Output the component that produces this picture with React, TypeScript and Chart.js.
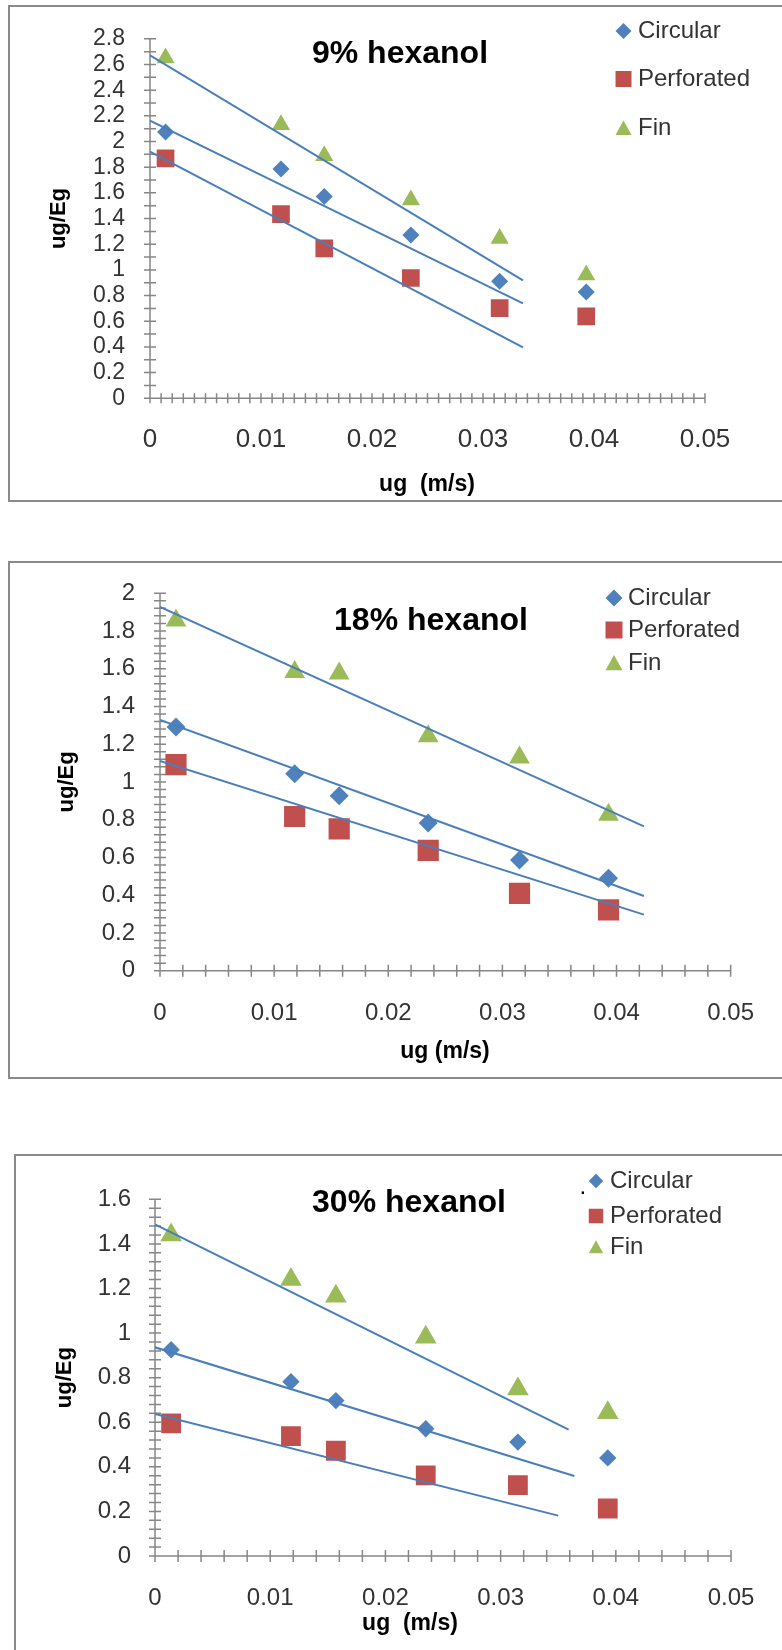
import React, { useEffect, useRef } from 'react';
import { Chart, registerables } from 'chart.js';

Chart.register(...registerables);

// ---------- data ----------
const UG = [0.0014, 0.0118, 0.0157, 0.0235, 0.0315, 0.0393];
const SERIES_NAMES = ['Circular', 'Perforated', 'Fin'];
const X_TICKS = [0, 0.01, 0.02, 0.03, 0.04, 0.05];

// 9% hexanol
const H9_CIRCULAR = [2.075, 1.785, 1.571, 1.272, 0.912, 0.828];
const H9_PERFORATED = [1.869, 1.434, 1.168, 0.937, 0.703, 0.638];
const H9_FIN = [2.65, 2.13, 1.89, 1.545, 1.245, 0.96];
const H9_TREND_X = [0, 0.0336];
const H9_TREND_CIRCULAR = [2.162, 0.74];
const H9_TREND_PERFORATED = [1.921, 0.397];
const H9_TREND_FIN = [2.672, 0.919];
const H9_Y_TICKS = [0, 0.2, 0.4, 0.6, 0.8, 1, 1.2, 1.4, 1.6, 1.8, 2, 2.2, 2.4, 2.6, 2.8];

// 18% hexanol
const H18_CIRCULAR = [1.291, 1.044, 0.927, 0.783, 0.586, 0.49];
const H18_PERFORATED = [1.092, 0.817, 0.751, 0.637, 0.41, 0.322];
const H18_FIN = [1.855, 1.583, 1.574, 1.242, 1.129, 0.826];
const H18_TREND_X = [0, 0.0424];
const H18_TREND_CIRCULAR = [1.328, 0.396];
const H18_TREND_PERFORATED = [1.111, 0.297];
const H18_TREND_FIN = [1.928, 0.765];
const H18_Y_TICKS = [0, 0.2, 0.4, 0.6, 0.8, 1, 1.2, 1.4, 1.6, 1.8, 2];

// 30% hexanol
const H30_CIRCULAR = [0.925, 0.782, 0.697, 0.571, 0.511, 0.44];
const H30_PERFORATED = [0.595, 0.538, 0.472, 0.362, 0.318, 0.213];
const H30_FIN = [1.44, 1.24, 1.165, 0.981, 0.749, 0.643];
const H30_TREND_CIRCULAR_X = [0, 0.0364];
const H30_TREND_CIRCULAR = [0.936, 0.359];
const H30_TREND_PERFORATED_X = [0, 0.035];
const H30_TREND_PERFORATED = [0.637, 0.181];
const H30_TREND_FIN_X = [0, 0.0359];
const H30_TREND_FIN = [1.487, 0.567];
const H30_Y_TICKS = [0, 0.2, 0.4, 0.6, 0.8, 1, 1.2, 1.4, 1.6];

// ---------- styles ----------
const BLUE = '#4F81BD';
const RED = '#C0504D';
const GREEN = '#9BBB59';
const TREND = '#4A7EBB';
const AXIS = '#868686';
const TEXT = '#333333';
const FONT = "'Liberation Sans', Arial, sans-serif";
const W = 782;
const X_AXIS_H = 60;

type Trend = { x: number[]; y: number[] };
type PanelCfg = {
  key: string;
  canvasTop: number;
  canvasH: number;
  box: { left: number; top: number; width: number; height: number };
  area: { left: number; right: number; top: number; bottom: number };
  yMax: number;
  yTicks: number[];
  yMinor: number;
  xMinor: number;
  yTickLen: number;
  xTickLen: number;
  yTickSize: number;
  xTickSize: number;
  yTickPad: number;
  xTickPad: number;
  yTitleX: number;
  title: { text: string; x: number; y: number };
  xTitle: { text: string; x: number; y: number };
  legend: { markerX: number; textX: number; ys: number[]; size: number; dot?: { x: number; y: number } };
  radius: number[];
  series: number[][];
  trends: Trend[];
};

const PANELS: PanelCfg[] = [
  {
    key: 'h9',
    canvasTop: 0,
    canvasH: 510,
    box: { left: 8, top: 5, width: 790, height: 497 },
    area: { left: 150, right: 705, top: 22.7, bottom: 398.3 },
    yMax: 2.8,
    yTicks: H9_Y_TICKS,
    yMinor: 0.1,
    xMinor: 0.001,
    yTickLen: 6,
    xTickLen: 5,
    yTickSize: 23,
    xTickSize: 26,
    yTickPad: 25,
    xTickPad: 26,
    yTitleX: 59,
    title: { text: '9% hexanol', x: 400, y: 63 },
    xTitle: { text: 'ug  (m/s)', x: 427, y: 485 },
    legend: { markerX: 623.5, textX: 638, ys: [31, 79, 128], size: 16 },
    radius: [8.5, 12.5, 10.5],
    series: [H9_CIRCULAR, H9_PERFORATED, H9_FIN],
    trends: [
      { x: H9_TREND_X, y: H9_TREND_CIRCULAR },
      { x: H9_TREND_X, y: H9_TREND_PERFORATED },
      { x: H9_TREND_X, y: H9_TREND_FIN },
    ],
  },
  {
    key: 'h18',
    canvasTop: 510,
    canvasH: 580,
    box: { left: 8, top: 561, width: 790, height: 518 },
    area: { left: 160, right: 745.6, top: 593.2, bottom: 970.7 },
    yMax: 2,
    yTicks: H18_Y_TICKS,
    yMinor: 0.04,
    xMinor: 0.002,
    yTickLen: 6,
    xTickLen: 6,
    yTickSize: 24,
    xTickSize: 24,
    yTickPad: 25,
    xTickPad: 28,
    yTitleX: 67,
    title: { text: '18% hexanol', x: 431, y: 630 },
    xTitle: { text: 'ug (m/s)', x: 445, y: 1052 },
    legend: { markerX: 614, textX: 628, ys: [598, 630, 663], size: 17 },
    radius: [9.5, 15, 12],
    series: [H18_CIRCULAR, H18_PERFORATED, H18_FIN],
    trends: [
      { x: H18_TREND_X, y: H18_TREND_CIRCULAR },
      { x: H18_TREND_X, y: H18_TREND_PERFORATED },
      { x: H18_TREND_X, y: H18_TREND_FIN },
    ],
  },
  {
    key: 'h30',
    canvasTop: 1090,
    canvasH: 560,
    box: { left: 14, top: 1154, width: 790, height: 520 },
    area: { left: 155, right: 743, top: 1199.3, bottom: 1556 },
    yMax: 1.6,
    yTicks: H30_Y_TICKS,
    yMinor: 0.04,
    xMinor: 0.002,
    yTickLen: 6,
    xTickLen: 6,
    yTickSize: 24,
    xTickSize: 24,
    yTickPad: 24,
    xTickPad: 27.6,
    yTitleX: 65,
    title: { text: '30% hexanol', x: 409, y: 1212 },
    xTitle: { text: 'ug  (m/s)', x: 410, y: 1624 },
    legend: { markerX: 596, textX: 610, ys: [1181, 1216, 1247], size: 14.5, dot: { x: 579.5, y: 1194 } },
    radius: [8.7, 14, 12.5],
    series: [H30_CIRCULAR, H30_PERFORATED, H30_FIN],
    trends: [
      { x: H30_TREND_CIRCULAR_X, y: H30_TREND_CIRCULAR },
      { x: H30_TREND_PERFORATED_X, y: H30_TREND_PERFORATED },
      { x: H30_TREND_FIN_X, y: H30_TREND_FIN },
    ],
  },
];

const COLORS = [BLUE, RED, GREEN];
const STYLES = ['rectRot', 'rect', 'triangle'];

const toPts = (xs: number[], ys: number[]) => ys.map((y, i) => ({ x: xs[i], y }));
const fmt = (v: number) => String(Number(Number(v).toFixed(4)));

function drawMarker(ctx: CanvasRenderingContext2D, kind: number, cx: number, cy: number, s: number) {
  ctx.fillStyle = COLORS[kind];
  ctx.beginPath();
  if (kind === 0) {
    ctx.moveTo(cx, cy - s / 2);
    ctx.lineTo(cx + s / 2, cy);
    ctx.lineTo(cx, cy + s / 2);
    ctx.lineTo(cx - s / 2, cy);
  } else if (kind === 1) {
    ctx.rect(cx - s / 2, cy - s / 2, s, s);
  } else {
    ctx.moveTo(cx, cy - s * 0.47);
    ctx.lineTo(cx + s / 2, cy + s * 0.43);
    ctx.lineTo(cx - s / 2, cy + s * 0.43);
  }
  ctx.closePath();
  ctx.fill();
}

function makeDecor(p: PanelCfg) {
  return {
    id: 'decor_' + p.key,
    beforeDatasetsDraw(chart: any) {
      const ctx: CanvasRenderingContext2D = chart.ctx;
      const xs = chart.scales.x;
      const ys = chart.scales.y;
      const x0 = xs.getPixelForValue(0);
      const y0 = ys.getPixelForValue(0);
      const yTop = ys.getPixelForValue(p.yMax);
      const xRight = xs.getPixelForValue(0.05);
      ctx.save();
      ctx.strokeStyle = AXIS;
      ctx.lineWidth = 1.5;
      ctx.beginPath();
      ctx.moveTo(x0, yTop);
      ctx.lineTo(x0, y0);
      ctx.moveTo(x0 - p.yTickLen, y0);
      ctx.lineTo(xRight, y0);
      const ny = Math.round(p.yMax / p.yMinor);
      for (let i = 0; i <= ny; i++) {
        const py = ys.getPixelForValue(i * p.yMinor);
        ctx.moveTo(x0 - p.yTickLen, py);
        ctx.lineTo(x0 + p.yTickLen, py);
      }
      const nx = Math.round(0.05 / p.xMinor);
      for (let i = 0; i <= nx; i++) {
        const px = xs.getPixelForValue(i * p.xMinor);
        ctx.moveTo(px, y0 - p.xTickLen);
        ctx.lineTo(px, y0 + p.xTickLen);
      }
      ctx.stroke();
      ctx.restore();
    },
    afterDraw(chart: any) {
      const ctx: CanvasRenderingContext2D = chart.ctx;
      const t = p.canvasTop;
      ctx.save();
      ctx.fillStyle = '#000';
      ctx.textAlign = 'center';
      ctx.textBaseline = 'alphabetic';
      ctx.font = `bold 32px ${FONT}`;
      ctx.fillText(p.title.text, p.title.x, p.title.y - t);
      ctx.font = `bold 23px ${FONT}`;
      ctx.textBaseline = 'middle';
      ctx.fillText(p.xTitle.text, p.xTitle.x, p.xTitle.y - t);
      // legend
      const L = p.legend;
      SERIES_NAMES.forEach((name, i) => {
        drawMarker(ctx, i, L.markerX, L.ys[i] - t, L.size);
        ctx.fillStyle = TEXT;
        ctx.font = `24px ${FONT}`;
        ctx.textAlign = 'left';
        ctx.textBaseline = 'middle';
        ctx.fillText(name, L.textX, L.ys[i] - t);
      });
      if (L.dot) {
        ctx.fillStyle = '#000';
        ctx.font = `24px ${FONT}`;
        ctx.textAlign = 'left';
        ctx.textBaseline = 'alphabetic';
        ctx.fillText('.', L.dot.x, L.dot.y - t);
      }
      ctx.restore();
    },
  };
}

function buildConfig(p: PanelCfg): any {
  const datasets: any[] = [];
  p.trends.forEach((tr, i) => {
    datasets.push({
      label: SERIES_NAMES[i] + ' trend',
      data: toPts(tr.x, tr.y),
      showLine: true,
      borderColor: TREND,
      borderWidth: 2,
      pointRadius: 0,
      fill: false,
      order: 0,
    });
  });
  p.series.forEach((vals, i) => {
    datasets.push({
      label: SERIES_NAMES[i],
      data: toPts(UG, vals),
      showLine: false,
      pointStyle: STYLES[i],
      pointRadius: p.radius[i],
      backgroundColor: COLORS[i],
      borderColor: COLORS[i],
      pointBorderWidth: 0,
      borderWidth: 0,
      order: 1,
    });
  });
  return {
    type: 'scatter',
    data: { datasets },
    options: {
      responsive: false,
      animation: false,
      events: [],
      layout: {
        padding: {
          left: 0,
          top: p.area.top - p.canvasTop,
          right: W - p.area.right,
          bottom: p.canvasTop + p.canvasH - p.area.bottom - X_AXIS_H,
        },
      },
      plugins: {
        legend: { display: false },
        tooltip: { enabled: false },
        title: { display: false },
      },
      scales: {
        x: {
          type: 'linear',
          position: 'bottom',
          min: 0,
          max: 0.05,
          afterBuildTicks: (s: any) => {
            s.ticks = X_TICKS.map((v) => ({ value: v }));
          },
          afterFit: (s: any) => {
            s.height = X_AXIS_H;
          },
          grid: { display: false, drawTicks: false },
          border: { display: false },
          ticks: {
            autoSkip: false,
            maxRotation: 0,
            minRotation: 0,
            padding: p.xTickPad,
            color: TEXT,
            font: { family: FONT, size: p.xTickSize },
            callback: (v: number) => fmt(v),
          },
        },
        y: {
          type: 'linear',
          position: 'left',
          min: 0,
          max: p.yMax,
          afterBuildTicks: (s: any) => {
            s.ticks = p.yTicks.map((v) => ({ value: v }));
          },
          afterFit: (s: any) => {
            s.width = p.area.left;
          },
          grid: { display: false, drawTicks: false },
          border: { display: false },
          ticks: {
            autoSkip: false,
            padding: p.yTickPad,
            color: TEXT,
            font: { family: FONT, size: p.yTickSize },
            callback: (v: number) => fmt(v),
          },
          title: {
            display: true,
            text: 'ug/Eg',
            color: '#000',
            font: { family: FONT, size: 22, weight: 'bold' },
            padding: { top: p.yTitleX - 13.2, bottom: 0 },
          },
        },
      },
    },
    plugins: [makeDecor(p)],
  };
}

function PanelChart({ p }: { p: PanelCfg }) {
  const ref = useRef<HTMLCanvasElement>(null);
  useEffect(() => {
    const canvas = ref.current;
    if (!canvas) return;
    const chart = new Chart(canvas, buildConfig(p));
    return () => chart.destroy();
  }, [p]);
  return (
    <>
      <div
        style={{
          position: 'absolute',
          left: p.box.left,
          top: p.box.top,
          width: p.box.width,
          height: p.box.height,
          border: '2px solid #8a8a8a',
          boxSizing: 'border-box',
        }}
      />
      <canvas
        ref={ref}
        width={W}
        height={p.canvasH}
        style={{ position: 'absolute', left: 0, top: p.canvasTop, width: W, height: p.canvasH }}
      />
    </>
  );
}

export default function App() {
  return (
    <div
      style={{
        position: 'absolute',
        left: 0,
        top: 0,
        width: W,
        height: 1650,
        overflow: 'hidden',
        background: '#ffffff',
      }}
    >
      {PANELS.map((p) => (
        <PanelChart key={p.key} p={p} />
      ))}
    </div>
  );
}
